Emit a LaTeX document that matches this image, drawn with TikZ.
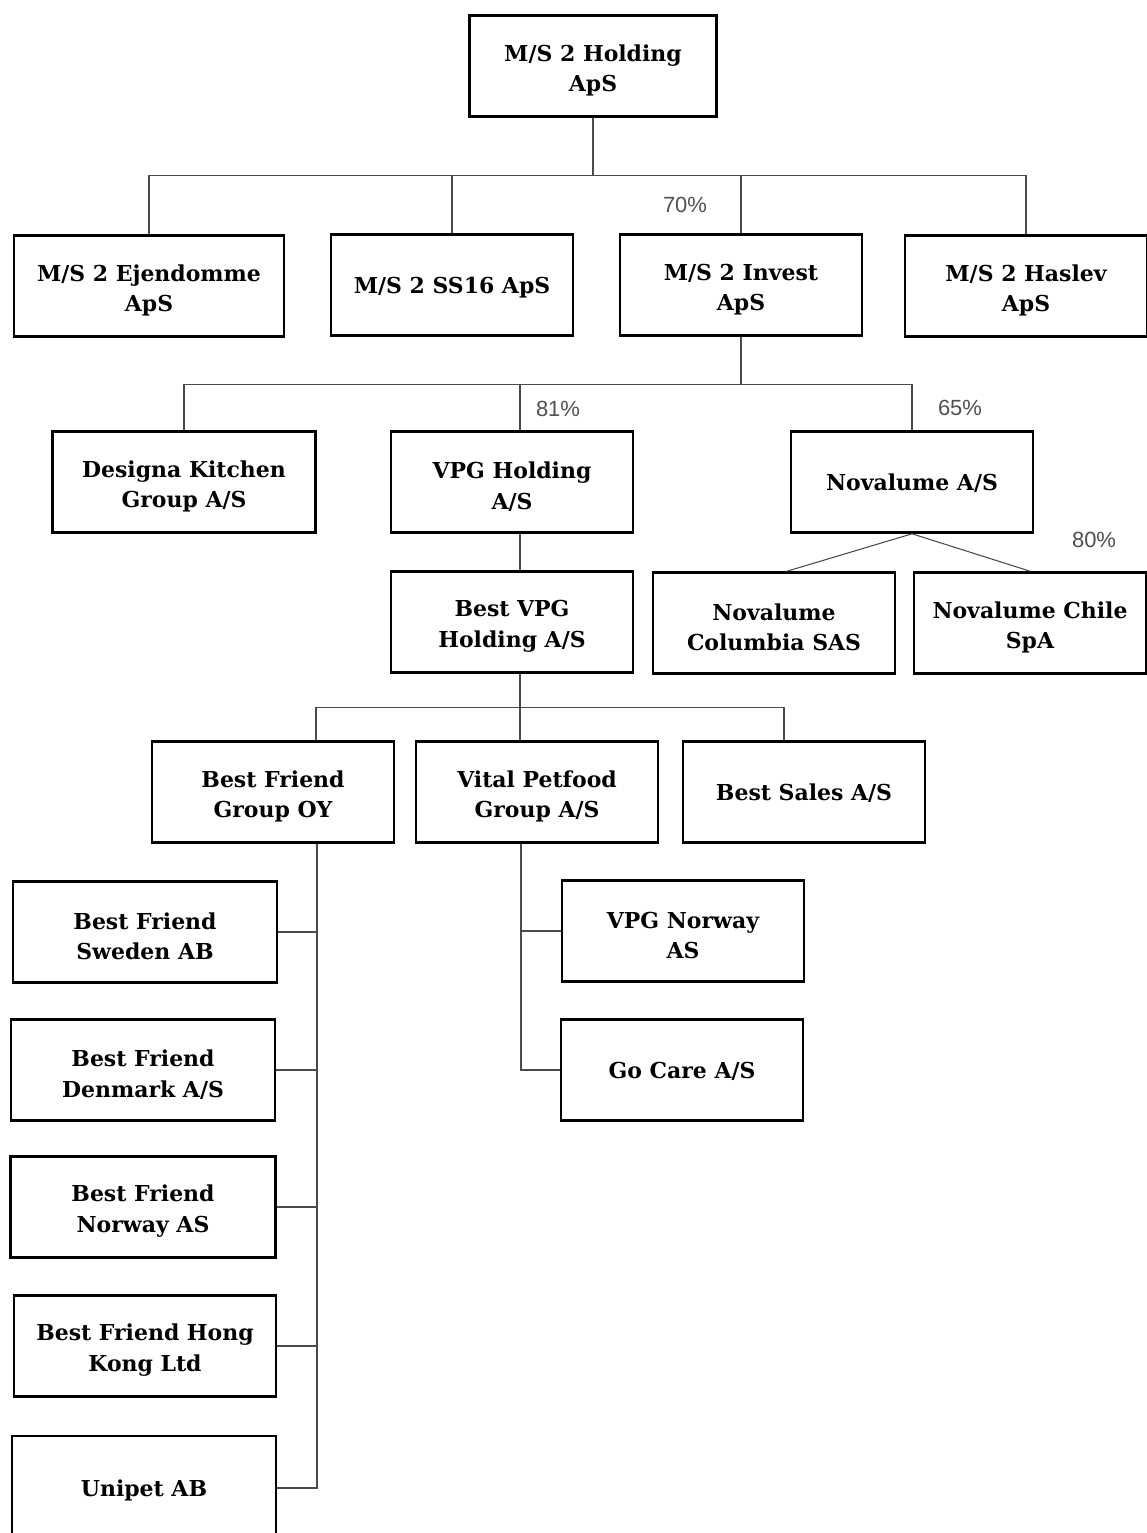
\documentclass[tikz,border=0pt]{standalone}
\usepackage{fontspec}
\setmainfont{DejaVu Serif}
\newfontfamily\pctfont{Liberation Sans}
\usepackage{xcolor}
\usepackage{tikz}
\definecolor{bg}{HTML}{FFFFFF}
\definecolor{edge}{HTML}{000000}
\definecolor{wire}{HTML}{4A4A4A}
\definecolor{muted}{HTML}{505050}
\tikzset{
  box/.style={draw=edge, line width=1.5pt, minimum width=4.84cm, minimum height=2.02cm,
    align=center, inner sep=2pt, font=\bfseries\fontsize{12.5}{17.5}\selectfont},
  one/.style={box, text depth=0pt},
  two/.style={box, text height=32pt},
  link/.style={draw=wire, line width=0.6pt},
  pct/.style={text=muted, font=\pctfont\fontsize{12.5}{14}\selectfont}
}

\begin{document}
\begin{tikzpicture}[x=0.02cm, y=-0.02cm]
  \useasboundingbox[fill=bg] (0,0) rectangle (1146,1533);
  % owners and first tier
  \node[two, minimum width=4.94cm] (hold) at (593,66) {M/S 2 Holding\\ApS};
  \node[two, minimum width=5.4cm] (ejd) at (149,286) {M/S 2 Ejendomme\\ApS};
  \node[one] (ss16) at (452,285) {M/S 2 SS16 ApS};
  \node[two] (inv) at (741,285) {M/S 2 Invest\\ApS};
  \node[two] (has) at (1026,286) {M/S 2 Haslev\\ApS};
  % second tier
  \node[two, minimum width=5.26cm] (des) at (184,482) {Designa Kitchen\\Group A/S};
  \node[two] (vpgh) at (512,482) {VPG Holding\\A/S};
  \node[one] (nova) at (912,482) {Novalume A/S};
  \node[two] (bvpg) at (512,622) {Best VPG\\Holding A/S};
  \node[two] (novcol) at (774,623) {Novalume\\Columbia SAS};
  \node[two, minimum width=4.64cm] (novchl) at (1030,623) {Novalume Chile\\SpA};
  % third tier
  \node[two] (bfg) at (273,792) {Best Friend\\Group OY};
  \node[two] (vpf) at (537,792) {Vital Petfood\\Group A/S};
  \node[one] (bsal) at (804,792) {Best Sales A/S};
  \node[two, minimum width=5.28cm] (bfswe) at (145,932) {Best Friend\\Sweden AB};
  \node[two, minimum width=5.28cm] (bfden) at (143,1070) {Best Friend\\Denmark A/S};
  \node[two, minimum width=5.3cm] (bfnor) at (143,1207) {Best Friend\\Norway AS};
  \node[two, minimum width=5.24cm] (bfhk) at (145,1346) {Best Friend Hong\\Kong Ltd};
  \node[one, minimum width=5.28cm, minimum height=2.08cm] (unip) at (144,1488) {Unipet AB};
  \node[two] (vpgn) at (683,931) {VPG Norway\\AS};
  \node[one] (gocare) at (682,1070) {Go Care A/S};

  \draw[link] (hold.south) -- ++(0,58) coordinate (j1);
  \draw[link] (ejd.north) |- (j1) -| (has.north);
  \draw[link] (ss16.north) -- (ss16.north |- j1);
  \draw[link] (inv.north) -- (inv.north |- j1);

  \draw[link] (inv.south) -- ++(0,48) coordinate (j2);
  \draw[link] (des.north) |- (j2) -| (nova.north);
  \draw[link] ([xshift=0.16cm]vpgh.north) -- ([xshift=0.16cm]vpgh.north |- j2);
  \draw[link] ([xshift=0.16cm]vpgh.south) -- ([xshift=0.16cm]bvpg.north);

  \draw[link] (nova.south) -- ([xshift=0.26cm]novcol.north);
  \draw[link] (nova.south) -- (novchl.north);

  \draw[link] ([xshift=0.16cm]bvpg.south) -- ++(0,34) coordinate (j3);
  \draw[link] ([xshift=0.86cm]bfg.north) |- (j3) -| ([xshift=-0.4cm]bsal.north);
  \draw[link] ([xshift=-0.34cm]vpf.north) -- ([xshift=-0.34cm]vpf.north |- j3);

  \coordinate (bftrunk) at ([xshift=0.88cm]bfg.south);
  \draw[link] (bftrunk) |- (unip.east);
  \foreach \n in {bfswe,bfden,bfnor,bfhk}
    \draw[link] (\n.east) -- (\n.east -| bftrunk);

  \coordinate (vptrunk) at ([xshift=-0.32cm]vpf.south);
  \draw[link] (vptrunk) |- (gocare.west);
  \draw[link] (vpgn.west) -- (vpgn.west -| vptrunk);

  \node[pct] (p70) at (685,205) {70\%};
  \node[pct] (p81) at (558,409) {81\%};
  \node[pct] (p65) at (960,408) {65\%};
  \node[pct] (p80) at (1094,540) {80\%};
\end{tikzpicture}
\end{document}
